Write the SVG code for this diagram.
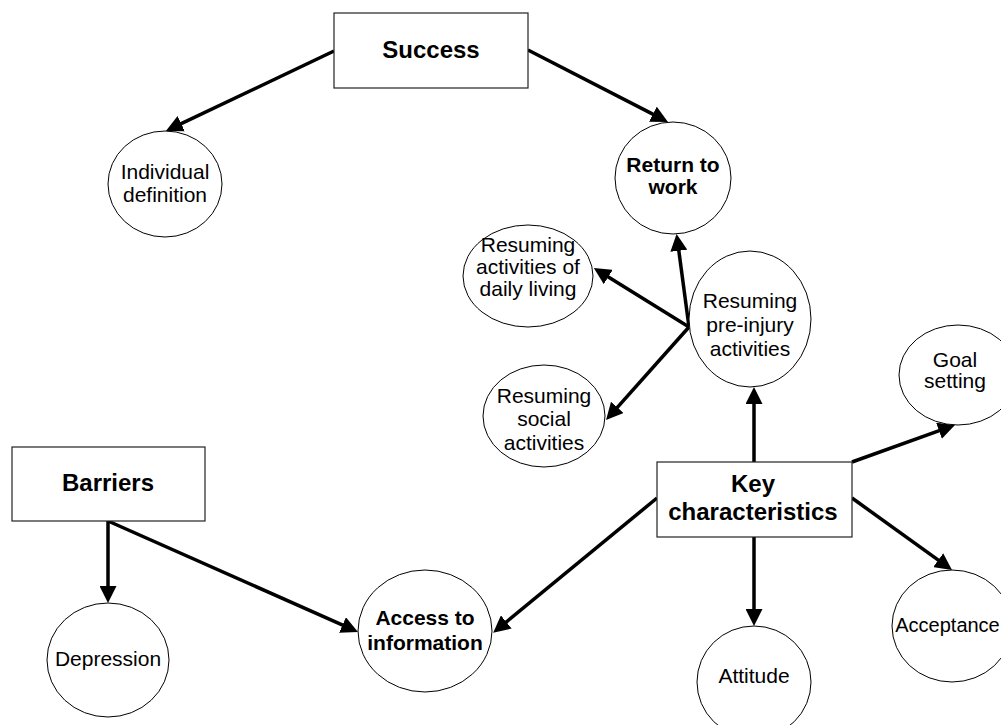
<svg xmlns="http://www.w3.org/2000/svg" width="1001" height="725" viewBox="0 0 1001 725">
<style>
.box{fill:#fff;stroke:#222;stroke-width:1.2}
.node{fill:#fff;stroke:#000;stroke-width:1}
.t{font-family:"Liberation Sans",Arial,sans-serif;font-size:21px;fill:#000;text-anchor:middle}
.b{font-weight:bold}
.big{font-size:24px;font-weight:bold}
.c{stroke:#000;stroke-width:3.5;fill:none;marker-end:url(#ah)}
</style>
<defs>
<marker id="ah" viewBox="0 0 17 17" refX="7" refY="8.5" markerWidth="17" markerHeight="17" markerUnits="userSpaceOnUse" orient="auto">
<path d="M0,0 L17,8.5 L0,17 z" fill="#000"/>
</marker>
</defs>
<rect width="1001" height="725" fill="#fff"/>
<g id="connectors">
<line class="c" x1="334" y1="51" x2="174.9" y2="126.7"/>
<line class="c" x1="528" y1="50" x2="659.1" y2="117.4"/>
<line class="c" x1="689" y1="327" x2="677.9" y2="243.8"/>
<line class="c" x1="689" y1="327" x2="602.3" y2="273.3"/>
<line class="c" x1="689" y1="327" x2="612.7" y2="412.6"/>
<line class="c" x1="754" y1="462" x2="754" y2="397"/>
<line class="c" x1="852" y1="462" x2="945.6" y2="428.4"/>
<line class="c" x1="852" y1="498" x2="943.9" y2="564.2"/>
<line class="c" x1="754" y1="537" x2="754" y2="616"/>
<line class="c" x1="657" y1="498" x2="500.9" y2="626.4"/>
<line class="c" x1="108" y1="521" x2="108" y2="593"/>
<line class="c" x1="108" y1="521" x2="348.9" y2="627.9"/>
</g>
<g id="success">
<rect class="box" x="334" y="13" width="194" height="75"/>
<text class="t big" x="431" y="58">Success</text>
</g>
<g id="individual-definition">
<ellipse class="node" cx="165" cy="184" rx="57" ry="53"/>
<text class="t" x="165" y="179">Individual</text>
<text class="t" x="165" y="202">definition</text>
</g>
<g id="return-to-work">
<ellipse class="node" cx="673" cy="178" rx="58" ry="56"/>
<text class="t b" x="673" y="172">Return to</text>
<text class="t b" x="673" y="194">work</text>
</g>
<g id="resuming-daily-living">
<ellipse class="node" cx="528" cy="276" rx="65" ry="51"/>
<text class="t" x="528" y="252">Resuming</text>
<text class="t" x="528" y="274">activities of</text>
<text class="t" x="528" y="296">daily living</text>
</g>
<g id="resuming-pre-injury">
<ellipse class="node" cx="750" cy="319" rx="61" ry="68"/>
<text class="t" x="750" y="308">Resuming</text>
<text class="t" x="750" y="332">pre-injury</text>
<text class="t" x="750" y="356">activities</text>
</g>
<g id="resuming-social">
<ellipse class="node" cx="544" cy="416" rx="61" ry="51"/>
<text class="t" x="544" y="403">Resuming</text>
<text class="t" x="544" y="426">social</text>
<text class="t" x="544" y="450">activities</text>
</g>
<g id="goal-setting">
<ellipse class="node" cx="958" cy="375" rx="59" ry="50"/>
<text class="t" x="955" y="367">Goal</text>
<text class="t" x="955" y="388">setting</text>
</g>
<g id="key-characteristics">
<rect class="box" x="657" y="462" width="195" height="75"/>
<text class="t big" x="753" y="492">Key</text>
<text class="t big" x="753" y="520">characteristics</text>
</g>
<g id="barriers">
<rect class="box" x="12" y="447" width="193" height="74"/>
<text class="t big" x="108" y="491">Barriers</text>
</g>
<g id="depression">
<ellipse class="node" cx="108" cy="660" rx="61" ry="57"/>
<text class="t" x="108" y="666">Depression</text>
</g>
<g id="access-to-information">
<ellipse class="node" cx="425" cy="631" rx="67" ry="61"/>
<text class="t b" x="425" y="625">Access to</text>
<text class="t b" x="425" y="650">information</text>
</g>
<g id="attitude">
<ellipse class="node" cx="754" cy="682" rx="57" ry="56"/>
<text class="t" x="754" y="683">Attitude</text>
</g>
<g id="acceptance">
<ellipse class="node" cx="952" cy="626" rx="60" ry="56"/>
<text class="t" x="947.5" y="632" style="font-size:20px">Acceptance</text>
</g>
</svg>
